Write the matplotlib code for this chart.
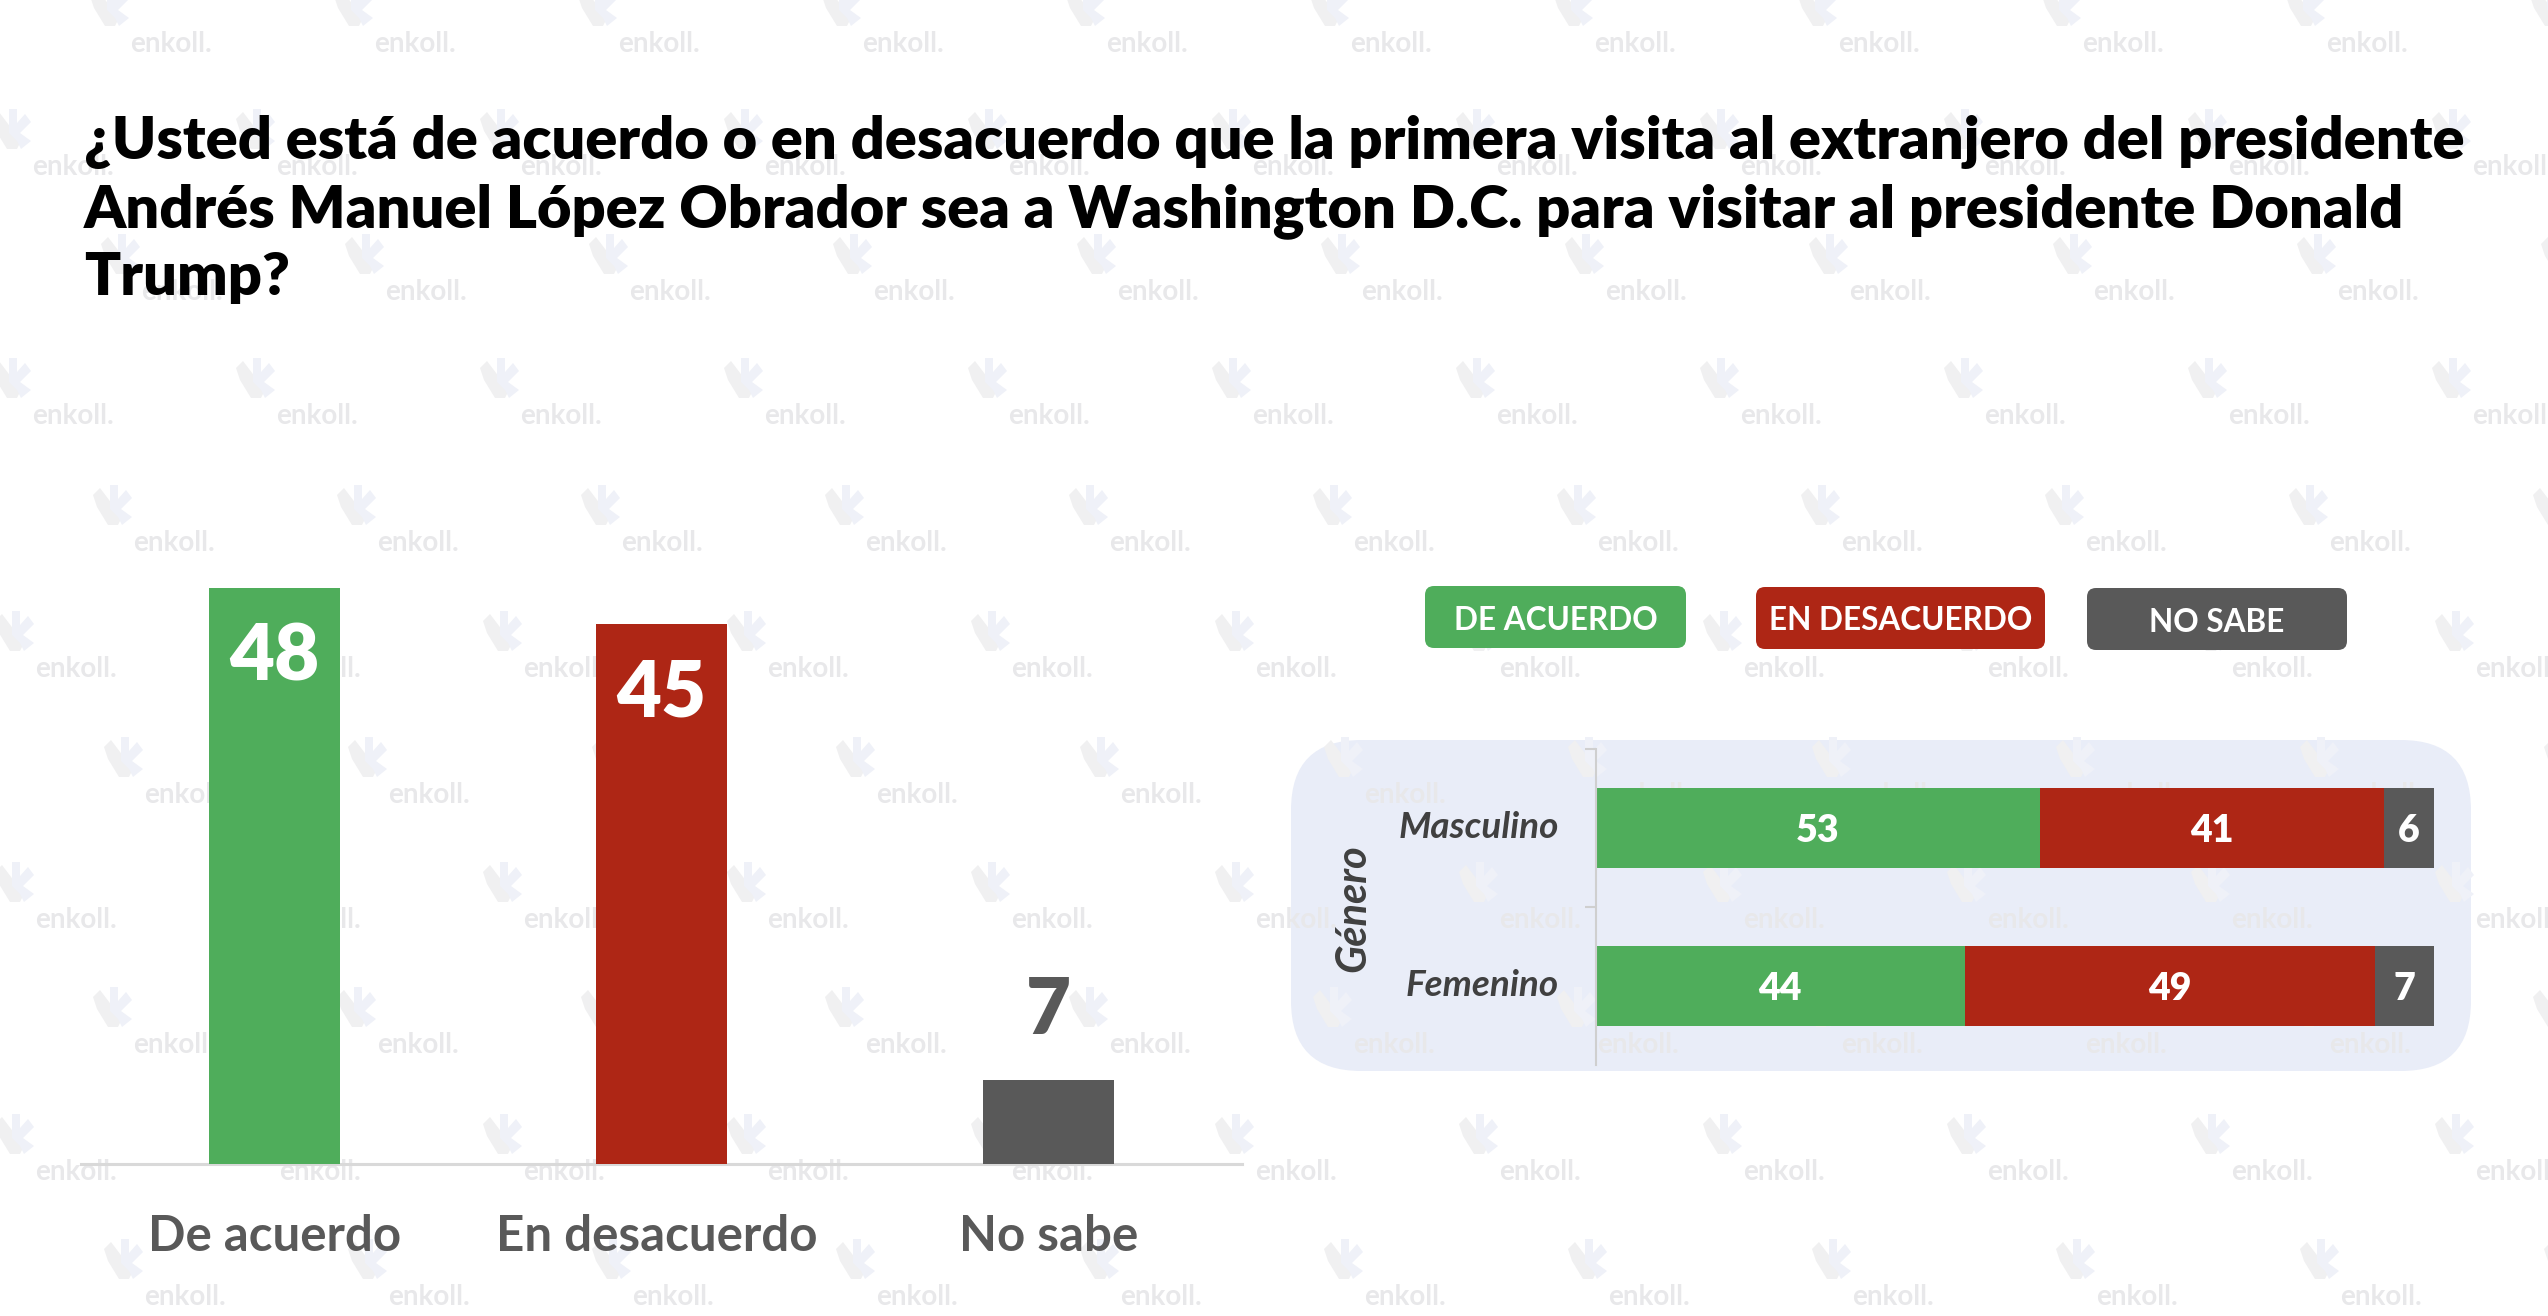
import matplotlib
matplotlib.use("Agg")
import matplotlib.pyplot as plt
from matplotlib.patches import FancyBboxPatch
from matplotlib.transforms import ScaledTranslation

W, H = 2548, 1316

title_lines = [
    "¿Usted está de acuerdo o en desacuerdo que la primera visita al extranjero del presidente",
    "Andrés Manuel López Obrador sea a Washington D.C. para visitar al presidente Donald",
    "Trump?",
]
categories = ["De acuerdo", "En desacuerdo", "No sabe"]
totals = [48, 45, 7]
groups = ["Masculino", "Femenino"]
agree = [53, 44]
disagree = [41, 49]
unsure = [6, 7]

GREEN = "#4fad5b"
RED = "#ae2615"
GRAY = "#595959"
plt.rcParams["font.family"] = ["Lato", "DejaVu Sans"]

fig = plt.figure(figsize=(W / 100, H / 100), dpi=100, facecolor="white")


def px_axes(x0, y0, x1, y1, **kw):
    # pixel box, y measured from the top of the image
    return fig.add_axes([x0 / W, 1 - y1 / H, (x1 - x0) / W, (y1 - y0) / H], **kw)


bg = px_axes(0, 0, W, H)
bg.set_xlim(0, W)
bg.set_ylim(H, 0)
bg.axis("off")

# rounded panel behind the gender bars
bg.add_patch(FancyBboxPatch((1291 + 70, 740 + 70), 1180 - 140, 331 - 140,
                            boxstyle="round,pad=70", fc="#e9edf8", ec="none", zorder=1))

# watermark tiles
logo_left = [(-19, -10), (-12, -17), (10, 12), (6, 20), (-4, 20), (-15, 2)]
logo_right = [(-2, -20), (6, -20), (6, -6), (14, -15), (20, -7), (9, 4), (20, 12), (10, 20), (6, 12), (-2, 4)]
rows = [44, 167, 292, 416, 543, 669, 795, 920, 1045, 1172, 1297]
starts = [171, 73, 182, 73, 174, 76, 185, 76, 174, 76, 185]
for ry, sx in zip(rows, starts):
    for k in range(11):
        tx = sx + k * 244
        bg.text(tx, ry, "enkoll.", color="#e8e8ea", fontsize=20, fontweight="bold",
                ha="center", va="center", zorder=2)
        lx, ly = tx - 62, ry - 38
        bg.fill([lx + p[0] for p in logo_left], [ly + p[1] for p in logo_left],
                color="#f0f0f1", lw=0, zorder=2)
        bg.fill([lx + p[0] for p in logo_right], [ly + p[1] for p in logo_right],
                color="#eff1f8", lw=0, zorder=2)

# title
for line, y in zip(title_lines, [159, 227, 295]):
    bg.text(84, y, line, color="black", fontsize=42.8, fontweight="heavy", ha="left",
            va="baseline", zorder=5)

# left chart
ax = px_axes(81, 560, 1242, 1164)
ax.patch.set_alpha(0)
colors = [GREEN, RED, GRAY]
ax.bar(range(3), totals, width=0.338, color=colors, zorder=3)
ax.set_xlim(-0.5, 2.5)
ax.set_ylim(0, 604 / 12)
for s in ["top", "left", "right"]:
    ax.spines[s].set_visible(False)
ax.spines["bottom"].set_color("#d9d9d9")
ax.spines["bottom"].set_linewidth(2.2)
ax.set_yticks([])
ax.set_xticks(range(3))
ax.set_xticklabels(categories, fontsize=35.5, fontweight="bold", color=GRAY)
ax.tick_params(axis="x", length=0, pad=36)
# middle label sits a bit left of its bar
mid = ax.get_xticklabels()[1]
mid.set_transform(mid.get_transform() + ScaledTranslation(-0.05, 0, fig.dpi_scale_trans))
for i, v in enumerate(totals):
    if v > 10:
        ax.annotate(str(v), (i, v), xytext=(0, -25), textcoords="offset points", ha="center",
                    va="top", color="white", fontsize=56, fontweight="heavy", zorder=4)
    else:
        ax.annotate(str(v), (i, v), xytext=(0, 24), textcoords="offset points", ha="center",
                    va="bottom", color=GRAY, fontsize=56, fontweight="heavy", zorder=4)

# right chart
ax2 = px_axes(1596, 749, 2434, 1065)
ax2.patch.set_alpha(0)
ypos = range(2)
ax2.barh(ypos, agree, height=0.506, color=GREEN, zorder=3)
ax2.barh(ypos, disagree, left=agree, height=0.506, color=RED, zorder=3)
left_unsure = [a + d for a, d in zip(agree, disagree)]
ax2.barh(ypos, unsure, left=left_unsure, height=0.506, color=GRAY, zorder=3)
ax2.set_xlim(0, 100)
ax2.set_ylim(1.5, -0.5)
for s in ["top", "bottom", "right"]:
    ax2.spines[s].set_visible(False)
ax2.spines["left"].set_color("#cfcfcf")
ax2.spines["left"].set_linewidth(1.5)
ax2.spines["left"].set_zorder(4)
ax2.set_xticks([])
ax2.set_yticks([-0.5, 0.5])
ax2.set_yticklabels([])
ax2.tick_params(axis="y", length=8, width=1.5, color="#cfcfcf")
for i, g in enumerate(groups):
    ax2.text(-4.4, i, g, ha="right", va="center", fontsize=26.6, fontweight="bold",
             fontstyle="italic", color="#404040")
    for val, start in zip([agree[i], disagree[i], unsure[i]], [0, agree[i], left_unsure[i]]):
        ax2.text(start + val / 2, i + 0.02, str(val), ha="center", va="center", color="white",
                 fontsize=27, fontweight="heavy", zorder=5)

bg.text(1353, 908, "Género", rotation=90, ha="center", va="center", fontsize=30,
        fontweight="bold", fontstyle="italic", color="#404040", zorder=5)

# legend pills
pills = [("DE ACUERDO", GREEN, 1425, 1686, 586), ("EN DESACUERDO", RED, 1756, 2045, 587),
         ("NO SABE", GRAY, 2087, 2347, 588)]
for label, col, x0, x1, y0 in pills:
    r = 9
    bg.add_patch(FancyBboxPatch((x0 + r, y0 + r), x1 - x0 - 2 * r, 62 - 2 * r,
                                boxstyle=f"round,pad={r}", fc=col, ec="none", zorder=4))
    bg.text((x0 + x1) / 2, y0 + 34, label, ha="center", va="center", color="white",
            fontsize=22.7, fontweight="bold", zorder=5)

fig.savefig("out.png", dpi=100)
